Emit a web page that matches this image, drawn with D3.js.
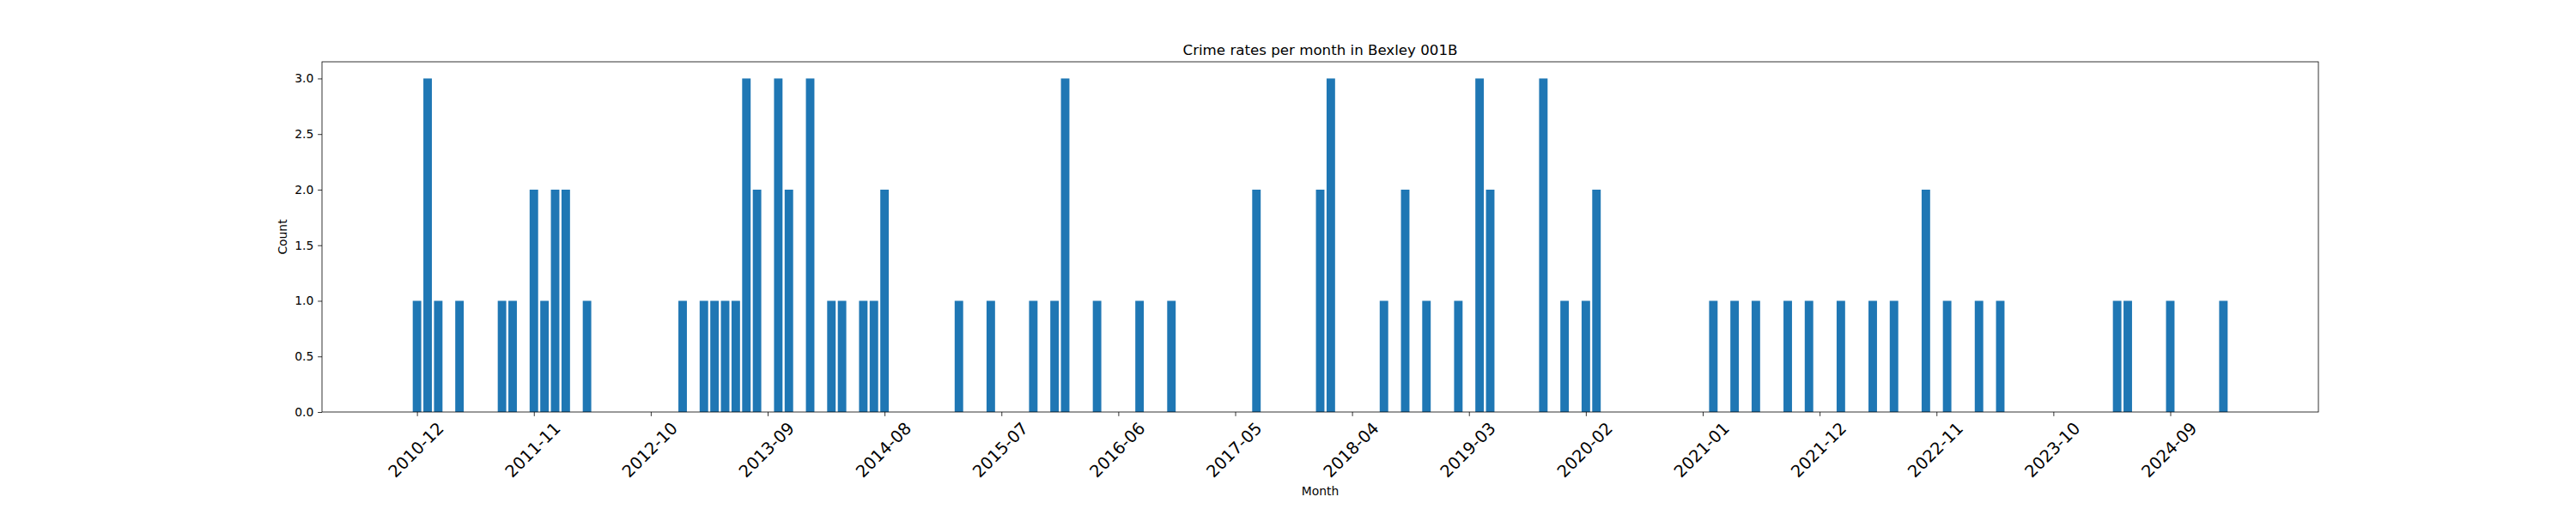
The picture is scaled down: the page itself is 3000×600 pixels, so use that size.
<!DOCTYPE html>
<html>
<head>
<meta charset="utf-8">
<script src="https://cdn.jsdelivr.net/npm/d3@7/dist/d3.min.js"></script>
<style>
  html, body { margin: 0; padding: 0; background: #ffffff; }
  svg { display: block; }
  text { font-family: "DejaVu Sans", sans-serif; fill: #000000; }
</style>
</head>
<body>
<svg id="chart" width="3000" height="600"></svg>
<script>
// ---- Data ----
const months = [
  "2010-12",
  "2011-01","2011-02","2011-03","2011-04","2011-05","2011-06","2011-07","2011-08","2011-09","2011-10","2011-11","2011-12",
  "2012-01","2012-02","2012-03","2012-04","2012-05","2012-06","2012-07","2012-08","2012-09","2012-10","2012-11","2012-12",
  "2013-01","2013-02","2013-03","2013-04","2013-05","2013-06","2013-07","2013-08","2013-09","2013-10","2013-11","2013-12",
  "2014-01","2014-02","2014-03","2014-04","2014-05","2014-06","2014-07","2014-08","2014-09","2014-10","2014-11","2014-12",
  "2015-01","2015-02","2015-03","2015-04","2015-05","2015-06","2015-07","2015-08","2015-09","2015-10","2015-11","2015-12",
  "2016-01","2016-02","2016-03","2016-04","2016-05","2016-06","2016-07","2016-08","2016-09","2016-10","2016-11","2016-12",
  "2017-01","2017-02","2017-03","2017-04","2017-05","2017-06","2017-07","2017-08","2017-09","2017-10","2017-11","2017-12",
  "2018-01","2018-02","2018-03","2018-04","2018-05","2018-06","2018-07","2018-08","2018-09","2018-10","2018-11","2018-12",
  "2019-01","2019-02","2019-03","2019-04","2019-05","2019-06","2019-07","2019-08","2019-09","2019-10","2019-11","2019-12",
  "2020-01","2020-02","2020-03","2020-04","2020-05","2020-06","2020-07","2020-08","2020-09","2020-10","2020-11","2020-12",
  "2021-01","2021-02","2021-03","2021-04","2021-05","2021-06","2021-07","2021-08","2021-09","2021-10","2021-11","2021-12",
  "2022-01","2022-02","2022-03","2022-04","2022-05","2022-06","2022-07","2022-08","2022-09","2022-10","2022-11","2022-12",
  "2023-01","2023-02","2023-03","2023-04","2023-05","2023-06","2023-07","2023-08","2023-09","2023-10","2023-11","2023-12",
  "2024-01","2024-02","2024-03","2024-04","2024-05","2024-06","2024-07","2024-08","2024-09","2024-10","2024-11","2024-12",
  "2025-01","2025-02"
];

const counts = [
  1,
  3,1,0,1,0,0,0,1,1,0,2,1,   // 2011
  2,2,0,1,0,0,0,0,0,0,0,0,   // 2012
  1,0,1,1,1,1,3,2,0,3,2,0,   // 2013
  3,0,1,1,0,1,1,2,0,0,0,0,   // 2014
  0,0,1,0,0,1,0,0,0,1,0,1,   // 2015
  3,0,0,1,0,0,0,1,0,0,1,0,   // 2016
  0,0,0,0,0,0,2,0,0,0,0,0,   // 2017
  2,3,0,0,0,0,1,0,2,0,1,0,   // 2018
  0,1,0,3,2,0,0,0,0,3,0,1,   // 2019
  0,1,2,0,0,0,0,0,0,0,0,0,   // 2020
  0,1,0,1,0,1,0,0,1,0,1,0,   // 2021
  0,1,0,0,1,0,1,0,0,2,0,1,   // 2022
  0,0,1,0,1,0,0,0,0,0,0,0,   // 2023
  0,0,0,1,1,0,0,0,1,0,0,0,   // 2024
  0,1                        // 2025
];

const xTickLabels = ["2010-12","2011-11","2012-10","2013-09","2014-08","2015-07","2016-06",
  "2017-05","2018-04","2019-03","2020-02","2021-01","2021-12","2022-11","2023-10","2024-09"];
const yTickValues = [0, 0.5, 1.0, 1.5, 2.0, 2.5, 3.0];

const titleText = "Crime rates per month in Bexley 001B";
const xLabelText = "Month";
const yLabelText = "Count";

// ---- Layout (matplotlib-like) ----
const W = 3000, H = 600;
const mLeft = 375, mRight = 2700, mTop = 72, mBottom = 480;
const pt = 100 / 72;
const tickLen = 3.5 * pt, tickPad = 3.5 * pt;
const barColor = "#1f77b4";

const svg = d3.select("#chart");
svg.append("rect").attr("width", W).attr("height", H).attr("fill", "#ffffff");

const N = months.length;
const barW = 0.8;
const span = (N - 1) + barW;
const x = d3.scaleLinear()
  .domain([-barW / 2 - 0.05 * span, (N - 1) + barW / 2 + 0.05 * span])
  .range([mLeft, mRight]);
const yMax = d3.max(counts);
const y = d3.scaleLinear().domain([0, yMax * 1.05]).range([mBottom, mTop]);

// Bars
svg.append("g").selectAll("rect")
  .data(counts.map((c, i) => ({ i, c })).filter(d => d.c > 0))
  .join("rect")
  .attr("x", d => x(d.i - barW / 2))
  .attr("width", d => x(d.i + barW / 2) - x(d.i - barW / 2))
  .attr("y", d => y(d.c))
  .attr("height", d => y(0) - y(d.c))
  .attr("fill", barColor);

// Y axis
const yAxis = d3.axisLeft(y).tickValues(yTickValues).tickFormat(d3.format(".1f"))
  .tickSize(tickLen).tickPadding(tickPad);
const gy = svg.append("g").attr("transform", `translate(${mLeft},0)`).call(yAxis);
gy.select(".domain").remove();
gy.selectAll(".tick line").attr("stroke", "#000").attr("stroke-width", 0.8);
gy.selectAll(".tick text").attr("font-size", (10 * pt) + "px")
  .attr("font-family", "DejaVu Sans").attr("fill", "#000").attr("dy", "0.32em");

// X axis ticks
const tickIdx = xTickLabels.map(l => months.indexOf(l));
const xAxis = d3.axisBottom(x).tickValues(tickIdx).tickFormat("").tickSize(tickLen);
const gx = svg.append("g").attr("transform", `translate(0,${mBottom})`).call(xAxis);
gx.select(".domain").remove();
gx.selectAll(".tick line").attr("stroke", "#000").attr("stroke-width", 0.8);

// X tick labels rotated 45 deg, bbox centered on tick, top at tick end + pad
const xfs = 14 * pt;
const labelTop = mBottom + tickLen + tickPad;
const gl = svg.append("g");
let maxBoxH = 0;
tickIdx.forEach((ti, k) => {
  const t = gl.append("text")
    .attr("font-size", xfs + "px")
    .attr("text-anchor", "middle")
    .text(xTickLabels[k]);
  const w = t.node().getComputedTextLength();
  const h = xfs * 1.0;
  const boxH = (w + h) * Math.SQRT1_2;
  maxBoxH = Math.max(maxBoxH, boxH);
  const cx = x(ti), cy = labelTop + boxH / 2;
  t.attr("transform", `translate(${cx},${cy}) rotate(-45)`)
   .attr("x", 0).attr("y", 0).attr("dy", (0.26 * xfs) + "px");
});

// Spines
svg.append("rect")
  .attr("x", mLeft).attr("y", mTop)
  .attr("width", mRight - mLeft).attr("height", mBottom - mTop)
  .attr("fill", "none").attr("stroke", "#000").attr("stroke-width", 0.8);

// Title
svg.append("text")
  .attr("x", (mLeft + mRight) / 2).attr("y", mTop - 6 * pt)
  .attr("text-anchor", "middle")
  .attr("font-size", (12 * pt) + "px")
  .text(titleText);

// X label
const lfs = 10 * pt;
svg.append("text")
  .attr("x", (mLeft + mRight) / 2)
  .attr("y", labelTop + maxBoxH + 4 * pt + 0.76 * lfs)
  .attr("text-anchor", "middle")
  .attr("font-size", lfs + "px")
  .text(xLabelText);

// Y label
const yTickW = d3.max(gy.selectAll(".tick text").nodes(), n => n.getComputedTextLength());
const yLabX = mLeft - tickLen - tickPad - yTickW - 4 * pt - 0.24 * lfs;
svg.append("text")
  .attr("transform", `translate(${yLabX},${(mTop + mBottom) / 2}) rotate(-90)`)
  .attr("text-anchor", "middle")
  .attr("font-size", lfs + "px")
  .text(yLabelText);
</script>
</body>
</html>
